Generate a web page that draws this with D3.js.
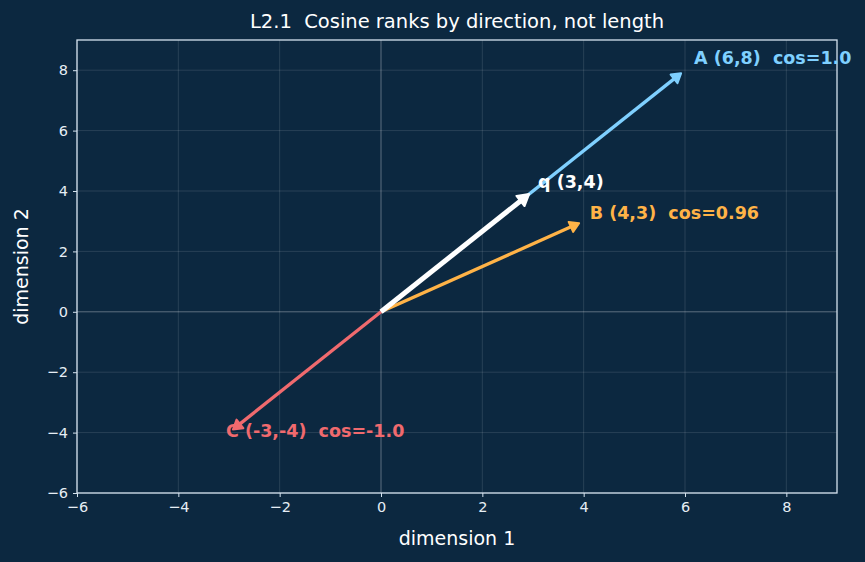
<!DOCTYPE html>
<html>
<head>
<meta charset="utf-8">
<script src="https://cdn.jsdelivr.net/npm/d3@7"></script>
<style>
  html, body { margin: 0; padding: 0; background: #0c2840; }
  svg { display: block; font-family: "DejaVu Sans", sans-serif; }
  text { white-space: pre; }
</style>
</head>
<body>
<div id="chart"></div>
<script>
const W = 865, H = 562;
const MARGIN = { top: 40, right: 28, bottom: 69, left: 77 };
const BG = "#0c2840";
const FRAME = "#d4e2ee";

// vectors
const names = ["A", "B", "C", "q"];
const vecX = [6, 4, -3, 3];
const vecY = [8, 3, -4, 4];
const labels = ["A (6,8)  cos=1.0", "B (4,3)  cos=0.96", "C (-3,-4)  cos=-1.0", "q (3,4)"];
const labelX = [6.18, 4.12, -3.06, 3.1];
const labelY = [8.4, 3.28, -3.94, 4.3];
const colors = ["#7fd0ff", "#ffb347", "#f06a6e", "#ffffff"];
const widths = [3.3, 3.3, 3.3, 5];

const xDomain = [-6, 9];
const yDomain = [-6, 9];
const xTicks = [-6, -4, -2, 0, 2, 4, 6, 8];
const yTicks = [-6, -4, -2, 0, 2, 4, 6, 8];

const svg = d3.select("#chart").append("svg")
  .attr("width", W).attr("height", H);

svg.append("rect").attr("width", W).attr("height", H).attr("fill", BG);

const iw = W - MARGIN.left - MARGIN.right;
const ih = H - MARGIN.top - MARGIN.bottom;

const x = d3.scaleLinear().domain(xDomain).range([0, iw]);
const y = d3.scaleLinear().domain(yDomain).range([ih, 0]);

const g = svg.append("g").attr("transform", `translate(${MARGIN.left},${MARGIN.top})`);

// grid
g.append("g").selectAll("line").data(xTicks).join("line")
  .attr("x1", d => x(d)).attr("x2", d => x(d))
  .attr("y1", 0).attr("y2", ih)
  .attr("stroke", "#ffffff").attr("stroke-opacity", 0.15).attr("stroke-width", 0.8);
g.append("g").selectAll("line").data(yTicks).join("line")
  .attr("y1", d => y(d)).attr("y2", d => y(d))
  .attr("x1", 0).attr("x2", iw)
  .attr("stroke", "#ffffff").attr("stroke-opacity", 0.15).attr("stroke-width", 0.8);

// zero lines
g.append("line").attr("x1", x(0)).attr("x2", x(0)).attr("y1", 0).attr("y2", ih)
  .attr("stroke", "#ffffff").attr("stroke-opacity", 0.3).attr("stroke-width", 0.8);
g.append("line").attr("y1", y(0)).attr("y2", y(0)).attr("x1", 0).attr("x2", iw)
  .attr("stroke", "#ffffff").attr("stroke-opacity", 0.3).attr("stroke-width", 0.8);

// axes
const fmt = d => d < 0 ? "\u2212" + Math.abs(d) : d;
const xAxis = g.append("g").attr("transform", `translate(0,${ih})`)
  .call(d3.axisBottom(x).tickValues(xTicks).tickSize(4).tickPadding(5).tickFormat(fmt));
const yAxis = g.append("g")
  .call(d3.axisLeft(y).tickValues(yTicks).tickSize(4).tickPadding(5).tickFormat(fmt));
[xAxis, yAxis].forEach(a => {
  a.select(".domain").remove();
  a.selectAll(".tick line").attr("stroke", FRAME).attr("stroke-width", 1);
  a.selectAll(".tick text").attr("fill", "#e6eef5").attr("font-size", 14.5)
    .attr("font-family", "DejaVu Sans, sans-serif");
});

// frame
g.append("rect").attr("width", iw).attr("height", ih)
  .attr("fill", "none").attr("stroke", FRAME).attr("stroke-width", 1.3);

// arrows
const arrows = g.append("g");
names.forEach((n, i) => {
  const x0 = x(0), y0 = y(0);
  const x1 = x(vecX[i]), y1 = y(vecY[i]);
  const dx = x1 - x0, dy = y1 - y0;
  const len = Math.hypot(dx, dy);
  const ux = dx / len, uy = dy / len;
  const shrink = 5;
  const tipX = x1 - ux * shrink, tipY = y1 - uy * shrink;
  const headL = i === 3 ? 11 : 9;
  const headW = i === 3 ? 6.5 : 5.5;
  const bx = tipX - ux * headL, by = tipY - uy * headL;
  arrows.append("line")
    .attr("x1", x0).attr("y1", y0)
    .attr("x2", bx + ux * 2).attr("y2", by + uy * 2)
    .attr("stroke", colors[i]).attr("stroke-width", widths[i]);
  arrows.append("path")
    .attr("d", `M${tipX},${tipY}L${bx - uy * headW},${by + ux * headW}L${bx + uy * headW},${by - ux * headW}Z`)
    .attr("fill", colors[i]).attr("stroke", colors[i]).attr("stroke-width", 2).attr("stroke-linejoin", "round");
});

// labels
g.append("g").selectAll("text").data(names).join("text")
  .attr("x", (d, i) => x(labelX[i]))
  .attr("y", (d, i) => y(labelY[i]))
  .attr("dominant-baseline", "central")
  .attr("fill", (d, i) => colors[i])
  .attr("font-size", 17.5)
  .attr("font-weight", "bold")
  .text((d, i) => labels[i]);

// title and axis labels
svg.append("text").attr("x", MARGIN.left + iw / 2).attr("y", 28)
  .attr("text-anchor", "middle").attr("fill", "#ffffff").attr("font-size", 19.5)
  .text("L2.1  Cosine ranks by direction, not length");
svg.append("text").attr("x", MARGIN.left + iw / 2).attr("y", 545)
  .attr("text-anchor", "middle").attr("fill", "#ffffff").attr("font-size", 19)
  .text("dimension 1");
svg.append("text")
  .attr("transform", `translate(28,${MARGIN.top + ih / 2}) rotate(-90)`)
  .attr("text-anchor", "middle").attr("fill", "#ffffff").attr("font-size", 19)
  .text("dimension 2");
</script>
</body>
</html>
